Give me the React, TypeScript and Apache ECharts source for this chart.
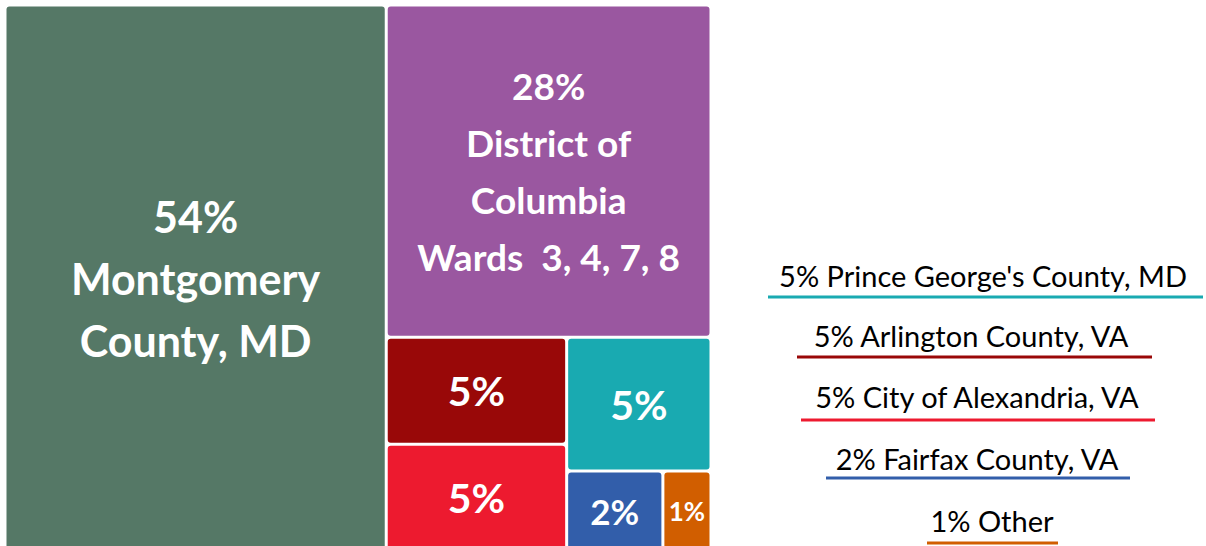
import React, { useEffect, useRef } from "react";
import * as echarts from "echarts";

// ---- data ----
const names = [
  "Montgomery County, MD",
  "District of Columbia Wards 3, 4, 7, 8",
  "Arlington County, VA",
  "City of Alexandria, VA",
  "Prince George's County, MD",
  "Fairfax County, VA",
  "Other",
];
const shares = [54, 28, 5, 5, 5, 2, 1];
const tileLabels = [
  "54%\nMontgomery\nCounty, MD",
  "28%\nDistrict of\nColumbia\nWards  3, 4, 7, 8",
  "5%",
  "5%",
  "5%",
  "2%",
  "1%",
];
const legendOrder = [4, 2, 3, 5, 6];

// ---- styles ----
const colors = ["#557866", "#9A57A0", "#990808", "#ED1A2F", "#19AAB1", "#325EAA", "#D15E00"];
const labelSizes = [43, 37, 41, 41, 41, 35, 26];
const labelLineHeights = [62, 57, 48, 48, 48, 40, 30];
const legendLayout = [
  { cx: 983, cy: 275, ly: 297, x1: 768, x2: 1203 },
  { cx: 971, cy: 335, ly: 357, x1: 797, x2: 1152 },
  { cx: 977, cy: 396, ly: 420, x1: 801, x2: 1155 },
  { cx: 977, cy: 458, ly: 478, x1: 826, x2: 1130 },
  { cx: 992, cy: 520, ly: 543, x1: 927, x2: 1058 },
];

export default function App() {
  const ref = useRef<HTMLDivElement>(null);
  useEffect(() => {
    if (!ref.current) return;
    const chart = echarts.init(ref.current, undefined, { renderer: "svg" });
    const font = "Lato, 'Open Sans', sans-serif";
    const data = names.map((n, i) => ({
      name: n,
      value: shares[i],
      itemStyle: { color: colors[i] },
      label: {
        formatter: tileLabels[i],
        fontSize: labelSizes[i],
        lineHeight: labelLineHeights[i],
      },
    }));
    const graphic: any[] = [];
    legendOrder.forEach((idx, k) => {
      const L = legendLayout[k];
      graphic.push({
        type: "text",
        x: L.cx,
        y: L.cy,
        style: {
          text: `${shares[idx]}% ${names[idx]}`,
          fontFamily: font,
          fontSize: 29,
          fill: "#000",
          align: "center",
          verticalAlign: "middle",
        },
      });
      graphic.push({
        type: "line",
        shape: { x1: L.x1, y1: L.ly, x2: L.x2, y2: L.ly },
        style: { stroke: colors[idx], lineWidth: 3 },
      });
    });
    chart.setOption({
      animation: false,
      backgroundColor: "#fff",
      graphic,
      series: [
        {
          type: "treemap",
          left: 6.5,
          top: 6.5,
          width: 703,
          height: 543,
          roam: false,
          nodeClick: false,
          squareRatio: 1,
          sort: false,
          breadcrumb: { show: false },
          itemStyle: { gapWidth: 3, borderWidth: 0, borderRadius: 3 },
          label: {
            show: true,
            position: "inside",
            align: "center",
            verticalAlign: "middle",
            color: "#fff",
            fontWeight: "bold",
            fontFamily: font,
            overflow: "none",
          },
          data,
        },
      ],
    });
    return () => chart.dispose();
  }, []);
  return (
    <div
      ref={ref}
      style={{ position: "fixed", left: 0, top: 0, width: 1206, height: 546 }}
    />
  );
}
